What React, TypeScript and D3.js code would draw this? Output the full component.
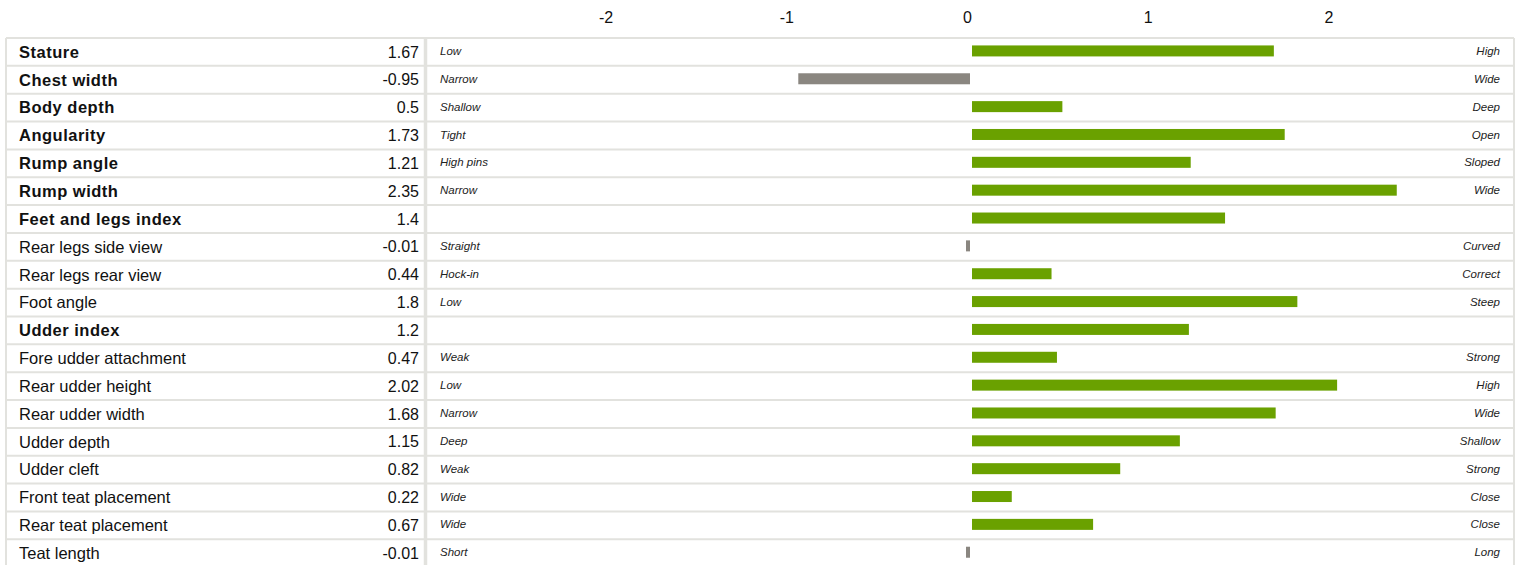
import React from 'react';
import * as d3 from 'd3';

// trait rows, top to bottom
const traits = [
  'Stature', 'Chest width', 'Body depth', 'Angularity', 'Rump angle', 'Rump width',
  'Feet and legs index', 'Rear legs side view', 'Rear legs rear view', 'Foot angle',
  'Udder index', 'Fore udder attachment', 'Rear udder height', 'Rear udder width',
  'Udder depth', 'Udder cleft', 'Front teat placement', 'Rear teat placement', 'Teat length'
];
const values = [
  1.67, -0.95, 0.5, 1.73, 1.21, 2.35, 1.4, -0.01, 0.44, 1.8,
  1.2, 0.47, 2.02, 1.68, 1.15, 0.82, 0.22, 0.67, -0.01
];
const lowLabels = [
  'Low', 'Narrow', 'Shallow', 'Tight', 'High pins', 'Narrow', '', 'Straight', 'Hock-in', 'Low',
  '', 'Weak', 'Low', 'Narrow', 'Deep', 'Weak', 'Wide', 'Wide', 'Short'
];
const highLabels = [
  'High', 'Wide', 'Deep', 'Open', 'Sloped', 'Wide', '', 'Curved', 'Correct', 'Steep',
  '', 'Strong', 'High', 'Wide', 'Shallow', 'Strong', 'Close', 'Close', 'Long'
];
const boldRows = [
  'Stature', 'Chest width', 'Body depth', 'Angularity', 'Rump angle', 'Rump width',
  'Feet and legs index', 'Udder index'
];
const ticks = [-2, -1, 0, 1, 2];

const W = 1520;
const H = 565;
const border = '#e2e2de';
const green = '#6aa100';
const grey = '#8a8680';
const font = 'Liberation Sans, Arial, sans-serif';

export default function App() {
  const top = 38;
  const rowH = 27.85;
  const left = 6;
  const right = 1514;
  const divider = 425.5;

  const x = d3.scaleLinear().domain([-2, 2]).range([606, 1329]);
  const y = d3.scaleBand().domain(traits).range([top, top + rowH * traits.length]);
  const zero = x(0) + 3.5;
  const barH = 11;

  return (
    <svg width={W} height={H} style={{ position: 'absolute', left: 0, top: 0 }} fontFamily={font}>
      <rect x={0} y={0} width={W} height={H} fill="#fff" />

      {ticks.map(t => (
        <text key={t} x={x(t)} y={23} textAnchor="middle" fontSize={16} fill="#111">{t}</text>
      ))}

      {/* grid */}
      {traits.map((t, i) => (
        <line key={'l' + i} x1={left} x2={right} y1={y(t)!} y2={y(t)!} stroke={border} strokeWidth={2} />
      ))}
      <line x1={left} x2={left} y1={top} y2={H} stroke={border} strokeWidth={2} />
      <line x1={right} x2={right} y1={top} y2={H} stroke={border} strokeWidth={2} />
      <line x1={divider} x2={divider} y1={top} y2={H} stroke={border} strokeWidth={3.5} />

      {traits.map((t, i) => {
        const v = values[i];
        const mid = y(t)! + rowH / 2;
        const bold = boldRows.includes(t);
        let bx, bw;
        if (v >= 0) {
          bx = zero + 1;
          bw = Math.max(x(v) - x(0), 4);
        } else {
          bw = Math.max(x(0) - x(v), 4);
          bx = zero - 1 - bw;
        }
        return (
          <g key={t}>
            <text x={19} y={mid} dy="0.35em" fontSize={16.5} fontWeight={bold ? 'bold' : 'normal'}
              letterSpacing={bold ? 0.5 : 0} fill="#111">{t}</text>
            <text x={419} y={mid} dy="0.35em" fontSize={16} textAnchor="end" fill="#111">{v}</text>
            <text x={440} y={mid - 1} dy="0.35em" fontSize={11.5} fontStyle="italic" fill="#222">{lowLabels[i]}</text>
            <text x={1500} y={mid - 1} dy="0.35em" fontSize={11.5} fontStyle="italic" textAnchor="end" fill="#222">{highLabels[i]}</text>
            <rect x={bx} y={mid - 1 - barH / 2} width={bw} height={barH} fill={v >= 0 ? green : grey} />
          </g>
        );
      })}
    </svg>
  );
}
